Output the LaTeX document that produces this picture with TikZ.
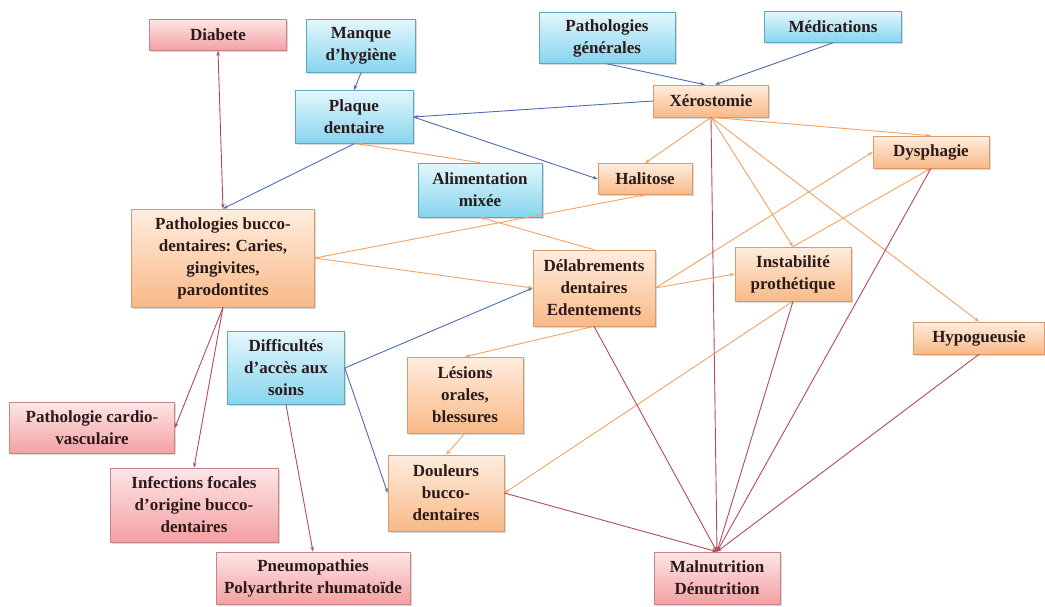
\documentclass[tikz,border=0pt]{standalone}
\usepackage{fontspec}
\setmainfont{Liberation Serif}
\usetikzlibrary{arrows.meta,shadows}
\frenchspacing

\definecolor{bleuhaut}{HTML}{E4F7FC}
\definecolor{bleubas}{HTML}{86D4EE}
\definecolor{bleubord}{HTML}{5FA6C0}
\definecolor{orhaut}{HTML}{FEEDDF}
\definecolor{orbas}{HTML}{F9B987}
\definecolor{orbord}{HTML}{D99A6C}
\definecolor{rghaut}{HTML}{FDE6E6}
\definecolor{rgbas}{HTML}{F3A0A3}
\definecolor{rgbord}{HTML}{C98286}
\definecolor{flbleu}{HTML}{4D6DB0}
\definecolor{flor}{HTML}{F2A262}
\definecolor{flrouge}{HTML}{B04A5E}
\definecolor{texte}{HTML}{2A1A1A}

\begin{document}
\begin{tikzpicture}
				[x=1pt, y=-1pt,
				box/.style = {draw, rectangle, align=center, inner sep=2pt,
				text=texte, font=\fontsize{17}{22}\selectfont\bfseries,
				line width=0.6pt,
				drop shadow={opacity=0.3, shadow xshift=1.5pt, shadow yshift=-1.5pt}},
				ext/.style = {box, draw=bleubord, top color=bleuhaut, bottom color=bleubas},
				oral/.style = {box, draw=orbord, top color=orhaut, bottom color=orbas},
				sys/.style = {box, draw=rgbord, top color=rghaut, bottom color=rgbas},
				>={Stealth[length=5pt, width=3.5pt]},
				lb/.style = {draw=flbleu, line width=0.9pt},
				lo/.style = {draw=flor, line width=0.9pt},
				lr/.style = {draw=flrouge, line width=0.9pt}]
				\useasboundingbox (0,0) rectangle (1045,606);
				% facteurs
				\node[sys, minimum width=137pt, minimum height=31pt] (diabete) at (218,35) {Diabete};
				\node[ext, minimum width=109pt, minimum height=53pt] (hygiene) at (361,46) {Manque\\d’hygiène};
				\node[ext, minimum width=136pt, minimum height=51pt] (pathgen) at (607,38) {Pathologies\\générales};
				\node[ext, minimum width=137pt, minimum height=31pt] (medic) at (833,27) {Médications};
				\node[ext, minimum width=118pt, minimum height=53pt] (plaque) at (354,117) {Plaque\\dentaire};
				\node[oral, minimum width=115pt, minimum height=32pt] (xero) at (711,101) {Xérostomie};
				\node[oral, minimum width=94pt, minimum height=31pt] (halitose) at (645,179) {Halitose};
				\node[ext, minimum width=124pt, minimum height=54pt] (aliment) at (480,190) {Alimentation\\mixée};
				\node[oral, minimum width=116pt, minimum height=32pt] (dysphagie) at (931,152) {Dysphagie};
				\node[oral, minimum width=183pt, minimum height=98pt] (pathbd) at (223,258) {Pathologies bucco-\\dentaires: Caries,\\gingivites,\\parodontites};
				\node[oral, minimum width=122pt, minimum height=76pt] (delab) at (594,288) {Délabrements\\dentaires\\Edentements};
				\node[oral, minimum width=116pt, minimum height=54pt] (instab) at (793,274) {Instabilité\\prothétique};
				\node[oral, minimum width=131pt, minimum height=32pt] (hypo) at (979,338) {Hypogueusie};
				\node[ext, minimum width=117pt, minimum height=73pt] (acces) at (286,368) {Difficultés\\d’accès aux\\soins};
				\node[oral, minimum width=116pt, minimum height=76pt] (lesions) at (465,395) {Lésions\\orales,\\blessures};
				\node[oral, minimum width=116pt, minimum height=76pt] (douleurs) at (446,493) {Douleurs\\bucco-\\dentaires};
				% consequences
				\node[sys, minimum width=165pt, minimum height=51pt] (cardio) at (92,428) {Pathologie cardio-\\vasculaire};
				\node[sys, minimum width=168pt, minimum height=74pt] (infect) at (194,505) {Infections focales\\d’origine bucco-\\dentaires};
				\node[sys, minimum width=194pt, minimum height=52pt] (pneumo) at (313,578) {Pneumopathies\\Polyarthrite rhumatoïde};
				\node[sys, minimum width=126pt, minimum height=52pt] (malnut) at (717,578) {Malnutrition\\Dénutrition};
				% liens bleus
				\draw[lb, ->] (hygiene.south) -- (plaque.north);
				\draw[lb, ->] (pathgen.south) -- ([xshift=-6pt]xero.north);
				\draw[lb, ->] (medic.south) -- ([xshift=4pt]xero.north);
				\draw[lb, ->] (xero.west) -- (plaque.east);
				\draw[lb, ->] (plaque.east) -- (halitose.west);
				\draw[lb, ->] (plaque.south) -- (pathbd.north);
				\draw[lb, ->] (acces.east) -- (delab.west);
				\draw[lb, ->] (acces.east) -- (douleurs.west);
				% liens orange
				\draw[lo, ->] (aliment.north) -- ([xshift=4pt]plaque.south);
				\draw[lo, ->] (delab.north) -- (aliment.south);
				\draw[lo, ->] (xero.south) -- (halitose.north);
				\draw[lo, ->] (xero.south) -- (dysphagie.north);
				\draw[lo, ->] (xero.south) -- (instab.north);
				\draw[lo, ->] (xero.south) -- (hypo.north);
				\draw[lo, ->] (pathbd.east) -- (halitose.south);
				\draw[lo, ->] (pathbd.east) -- (delab.west);
				\draw[lo, ->] (delab.east) -- (dysphagie.west);
				\draw[lo, ->] (delab.east) -- (instab.west);
				\draw[lo, ->] (delab.south) -- (lesions.north);
				\draw[lo, ->] (lesions.south) -- (douleurs.north);
				\draw[lo, ->] (instab.north) -- (dysphagie.south);
				\draw[lo, ->] (instab.south) -- (douleurs.east);
				% liens rouges
				\draw[lr, <->] (diabete.south) -- (pathbd.north);
				\draw[lr, ->] (pathbd.south) -- (cardio.east);
				\draw[lr, ->] (pathbd.south) -- (infect.north);
				\draw[lr, ->] (acces.south) -- (pneumo.north);
				\draw[lr, ->] (xero.south) -- (malnut.north);
				\draw[lr, ->] (delab.south) -- (malnut.north);
				\draw[lr, ->] (instab.south) -- (malnut.north);
				\draw[lr, ->] (dysphagie.south) -- (malnut.north);
				\draw[lr, ->] (hypo.south) -- (malnut.north);
				\draw[lr, ->] (douleurs.east) -- (malnut.north);
			\end{tikzpicture}
\end{document}
